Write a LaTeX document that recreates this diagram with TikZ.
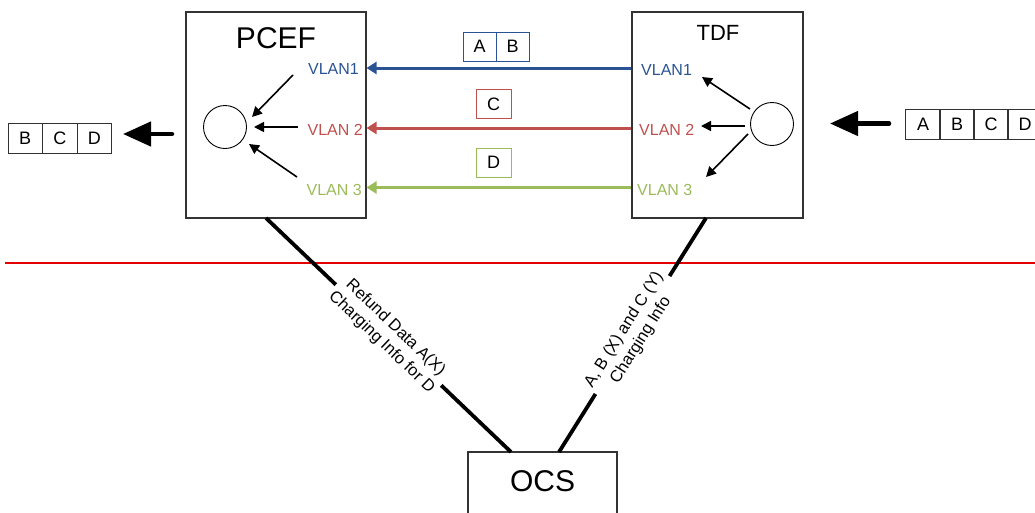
\documentclass[tikz,border=0pt]{standalone}
\usepackage{fontspec}
\setmainfont{Liberation Sans}
\usetikzlibrary{arrows.meta,calc}
\definecolor{vblue}{HTML}{2A5394}
\definecolor{vred}{HTML}{C0504D}
\definecolor{vgreen}{HTML}{9BBB59}
\definecolor{edge}{HTML}{333333}

\begin{document}
\begin{tikzpicture}[x=1pt,y=-1pt,
  fnt/.style={font=\fontsize{#1}{#1}\selectfont},
  box/.style={draw=edge,line width=1.1pt,inner sep=0pt},
  hub/.style={circle,draw=black,line width=0.9pt,minimum size=43pt,inner sep=0pt},
  vlan/.style={inner sep=0pt,fnt=16},
  inner/.style={line width=1.6pt,-{Triangle[length=10pt,width=10pt]}},
  trunk/.style={line width=3pt,-{Triangle[length=10pt,width=12pt]}},
  tag/.style={draw,line width=0.9pt,minimum height=29pt,inner sep=0pt,fnt=18},
  pkt/.style={draw=edge,line width=0.9pt,minimum width=34.5pt,minimum height=30pt,inner sep=0pt,fnt=18},
  bigarrow/.style={line width=4.5pt,line cap=round,-{Triangle[length=28pt,width=24pt]}},
  link/.style={line width=3.8pt},
  linklabel/.style={sloped,fill=white,align=center,inner sep=3pt,
    font=\fontsize{16.5}{20}\selectfont}]
\clip (0,0) rectangle (1035,512);

% main boxes
\node[box,minimum width=180pt,minimum height=206pt] (pcef) at (276,115) {};
\node[box,minimum width=171pt,minimum height=206pt] (tdf) at (717.5,115) {};
\node[fnt=30] (pceft) at (276,38) {PCEF};
\node[fnt=22] (tdft) at (718,33) {TDF};

% hubs
\node[hub] (pc) at (225,127) {};
\node[hub] (tc) at (772,124) {};

% VLAN labels, PCEF side
\node[vlan,anchor=east,text=vblue] (pv1) at (359,69) {VLAN1};
\node[vlan,anchor=east,text=vred] (pv2) at (363,130) {VLAN 2};
\node[vlan,anchor=east,text=vgreen] (pv3) at (362,190) {VLAN 3};
% VLAN labels, TDF side
\node[vlan,anchor=west,text=vblue] (tv1) at (641,70) {VLAN1};
\node[vlan,anchor=west,text=vred] (tv2) at (639,130) {VLAN 2};
\node[vlan,anchor=west,text=vgreen] (tv3) at (637,190) {VLAN 3};

% inner fan-in / fan-out
\coordinate (pa1) at (293,75);  \coordinate (pb1) at (252,117);
\coordinate (pa2) at (298,127); \coordinate (pb2) at (254,127);
\coordinate (pa3) at (297,177); \coordinate (pb3) at (249,144);
\draw[inner] (pa1) -- (pb1);
\draw[inner] (pa2) -- (pb2);
\draw[inner] (pa3) -- (pb3);
\coordinate (ta1) at (750,109); \coordinate (tb1) at (702,77);
\coordinate (ta2) at (745,126); \coordinate (tb2) at (701,126);
\coordinate (ta3) at (748,134); \coordinate (tb3) at (706,177);
\draw[inner] (ta1) -- (tb1);
\draw[inner] (ta2) -- (tb2);
\draw[inner] (ta3) -- (tb3);

% VLAN trunks between the boxes
\coordinate (y1) at (0,68);
\coordinate (y2) at (0,128);
\coordinate (y3) at (0,187.5);
\draw[trunk,vblue] (tdf.west |- y1) -- (pcef.east |- y1);
\draw[trunk,vred] (tdf.west |- y2) -- (pcef.east |- y2);
\draw[trunk,vgreen] (tdf.west |- y3) -- (pcef.east |- y3);

% packets on each VLAN
\node[tag,draw=vblue,minimum width=33pt] (ka) at (479.5,46.5) {A};
\node[tag,draw=vblue,minimum width=33pt] (kb) at (512.5,46.5) {B};
\node[tag,draw=vred,minimum width=35pt] (kc) at (493.5,104) {C};
\node[tag,draw=vgreen,minimum width=35pt] (kd) at (493.5,162.5) {D};

% outgoing packets
\node[pkt] (ob) at (25.25,138) {B};
\node[pkt] (oc) at (59.75,138) {C};
\node[pkt] (od) at (94.25,138) {D};
\coordinate (outtail) at (172,134);
\coordinate (outtip) at (123,134);
\draw[bigarrow] (outtail) -- (outtip);

% incoming packets
\node[pkt] (ia) at (923,124) {A};
\node[pkt] (ib) at (957,124) {B};
\node[pkt] (ic) at (991,124) {C};
\node[pkt] (id) at (1025,124) {D};
\coordinate (intail) at (889,123.5);
\coordinate (intip) at (830,123.5);
\draw[bigarrow] (intail) -- (intip);

% separator
\coordinate (sepl) at (5,263);
\coordinate (sepr) at (1035,263);
\draw[line width=1.3pt,red!90!black] (sepl) -- (sepr);

% OCS
\node[box,minimum width=149pt,minimum height=80pt] (ocs) at (542.5,492) {};
\node[fnt=30] (ocst) at (542.5,481) {OCS};

% charging links
\coordinate (pl) at (266,218);
\coordinate (ol) at (511,452);
\coordinate (tl) at (706,218);
\coordinate (or) at (559,452);
\draw[link] (pl) -- node[linklabel] {Refund Data A(X)\\Charging Info for D} (ol);
\draw[link] (tl) -- node[linklabel] {A, B (X) and C (Y)\\Charging Info} (or);
\end{tikzpicture}
\end{document}
